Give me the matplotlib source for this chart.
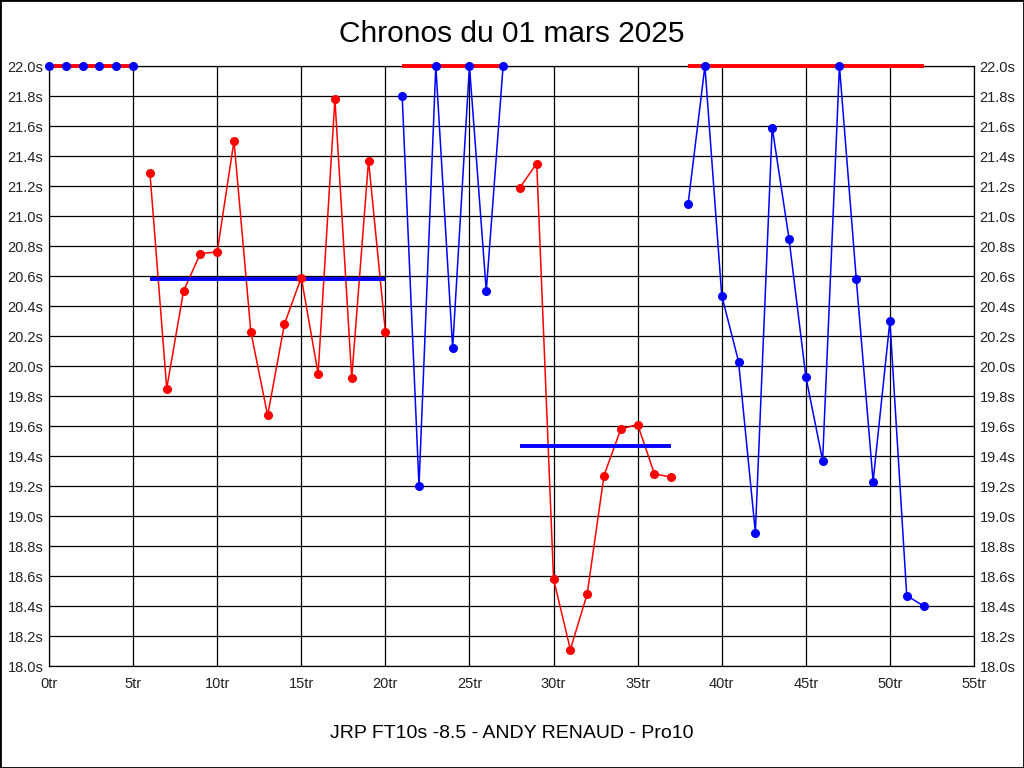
import matplotlib.pyplot as plt
from matplotlib.patches import Rectangle

plt.rcParams["font.family"] = ["Liberation Sans", "DejaVu Sans"]

# chronos per run, split in segments (x = tour number)
seg1_x = [0, 1, 2, 3, 4, 5]
seg1_y = [22.0, 22.0, 22.0, 22.0, 22.0, 22.0]

seg2_x = [6, 7, 8, 9, 10, 11, 12, 13, 14, 15, 16, 17, 18, 19, 20]
seg2_y = [21.29, 19.85, 20.50, 20.75, 20.76, 21.50, 20.23, 19.67, 20.28,
          20.59, 19.95, 21.78, 19.92, 21.37, 20.23]

seg3_x = [21, 22, 23, 24, 25, 26, 27]
seg3_y = [21.80, 19.20, 22.0, 20.12, 22.0, 20.50, 22.0]

seg4_x = [28, 29, 30, 31, 32, 33, 34, 35, 36, 37]
seg4_y = [21.19, 21.35, 18.58, 18.11, 18.48, 19.27, 19.58, 19.61, 19.28, 19.26]

seg5_x = [38, 39, 40, 41, 42, 43, 44, 45, 46, 47, 48, 49, 50, 51, 52]
seg5_y = [21.08, 22.0, 20.47, 20.03, 18.89, 21.59, 20.85, 19.93, 19.37,
          22.0, 20.58, 19.23, 20.30, 18.47, 18.40]

segments = [(seg1_x, seg1_y), (seg2_x, seg2_y), (seg3_x, seg3_y),
            (seg4_x, seg4_y), (seg5_x, seg5_y)]
seg_colors = ["#0000ff", "#ff0000", "#0000ff", "#ff0000", "#0000ff"]

# horizontal reference lines: (x start, x end, level)
ref_lines = [(0, 5, 22.0), (6, 20, 20.58), (21, 27, 22.0),
             (28, 37, 19.47), (38, 52, 22.0)]
ref_colors = ["#ff0000", "#0000ff", "#ff0000", "#0000ff", "#ff0000"]

title = "Chronos du 01 mars 2025"
subtitle = "JRP FT10s -8.5 - ANDY RENAUD - Pro10"

fig = plt.figure(figsize=(10.24, 7.68), dpi=100)
ax = fig.add_axes([49 / 1024, 1 - 666 / 768, 925 / 1024, 600 / 768])

for (xs, ys), c in zip(segments, seg_colors):
    ax.plot(xs, ys, color=c, lw=1.1, zorder=3, clip_on=False)

for (x0, x1, lvl), c in zip(ref_lines, ref_colors):
    ax.plot([x0, x1], [lvl, lvl], color=c, lw=2.8, solid_capstyle="butt",
            zorder=4, clip_on=False)

for (xs, ys), c in zip(segments, seg_colors):
    ax.plot(xs, ys, ls="none", marker="o", ms=5.5, color=c, zorder=5, clip_on=False)

ax.set_xlim(0, 55)
ax.set_ylim(18.0, 22.0)
ax.set_xticks(range(0, 56, 5))
ax.set_xticklabels([f"{v}tr" for v in range(0, 56, 5)])
yt = [18.0 + 0.2 * i for i in range(21)]
ax.set_yticks(yt)
ax.set_yticklabels([f"{v:.1f}s" for v in yt])
ax.tick_params(length=0, labelsize=10.5, labelright=True, colors="#222222")
ax.tick_params(axis="x", pad=8)
ax.tick_params(axis="y", pad=4)
ax.grid(True, color="black", lw=0.9)
for s in ax.spines.values():
    s.set_linewidth(0.9)

fig.text(0.5, 1 - 34 / 768, title, ha="center", va="center", fontsize=21.5)
fig.text(0.5, 1 - 733 / 768, subtitle, ha="center", va="center", fontsize=14)

fig.patches.append(Rectangle((0, 0), 1, 1, transform=fig.transFigure,
                             fill=False, ec="black", lw=2))

fig.savefig("out.png", dpi=100)
